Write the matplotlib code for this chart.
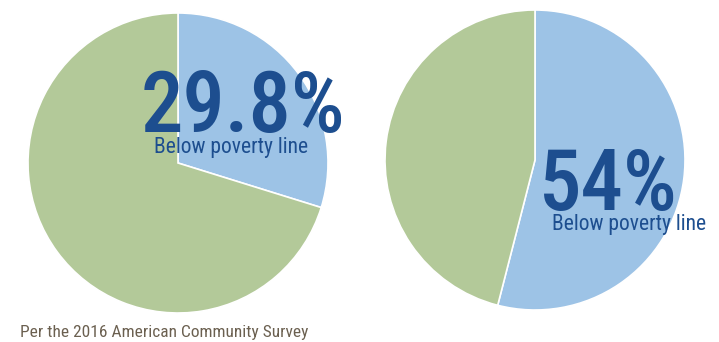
import matplotlib
matplotlib.use("Agg")
import matplotlib.pyplot as plt
from matplotlib import font_manager

# Data
left_labels = ["Below poverty line", "Above poverty line"]
left_values = [29.8, 70.2]
right_labels = ["Below poverty line", "Above poverty line"]
right_values = [54.0, 46.0]
left_pct_text = "29.8%"
right_pct_text = "54%"
sub_text = "Below poverty line"
footer_text = "Per the 2016 American Community Survey"

BLUE = "#9DC3E6"
GREEN = "#B3C999"
TEXT_BLUE = "#1D4E8F"
FOOTER = "#6B6050"

avail = {f.name for f in font_manager.fontManager.ttflist}
fam = [f for f in ["Roboto Condensed", "Liberation Sans Narrow", "DejaVu Sans Condensed", "Roboto", "DejaVu Sans"] if f in avail]

W, H = 719, 342
fig = plt.figure(figsize=(W / 100, H / 100), dpi=100)
ax = fig.add_axes([0, 0, 1, 1])

wp = dict(edgecolor="white", linewidth=1.2)
ax.pie(left_values, colors=[BLUE, GREEN], startangle=90, counterclock=False,
       center=(178, H - 163), radius=150, frame=True, wedgeprops=wp)
ax.pie(right_values, colors=[BLUE, GREEN], startangle=90, counterclock=False,
       center=(535, H - 160), radius=150, frame=True, wedgeprops=wp)

ax.set_xlim(0, W)
ax.set_ylim(0, H)
ax.set_aspect("auto")
ax.axis("off")

ax.text(243, H - 132, left_pct_text, fontsize=61, color=TEXT_BLUE, family=fam,
        fontstretch="condensed", fontweight="medium", ha="center", va="baseline")
ax.text(231, H - 153, sub_text, fontsize=15.5, color=TEXT_BLUE, family=fam,
        fontstretch="condensed", ha="center", va="baseline")
ax.text(608, H - 210, right_pct_text, fontsize=61, color=TEXT_BLUE, family=fam,
        fontstretch="condensed", fontweight="medium", ha="center", va="baseline")
ax.text(629, H - 230, sub_text, fontsize=15.5, color=TEXT_BLUE, family=fam,
        fontstretch="condensed", ha="center", va="baseline")
ax.text(20, H - 337, footer_text, fontsize=12.5, color=FOOTER, family=fam,
        fontstretch="condensed", ha="left", va="baseline")

fig.savefig("out.png", dpi=100, facecolor="white")
